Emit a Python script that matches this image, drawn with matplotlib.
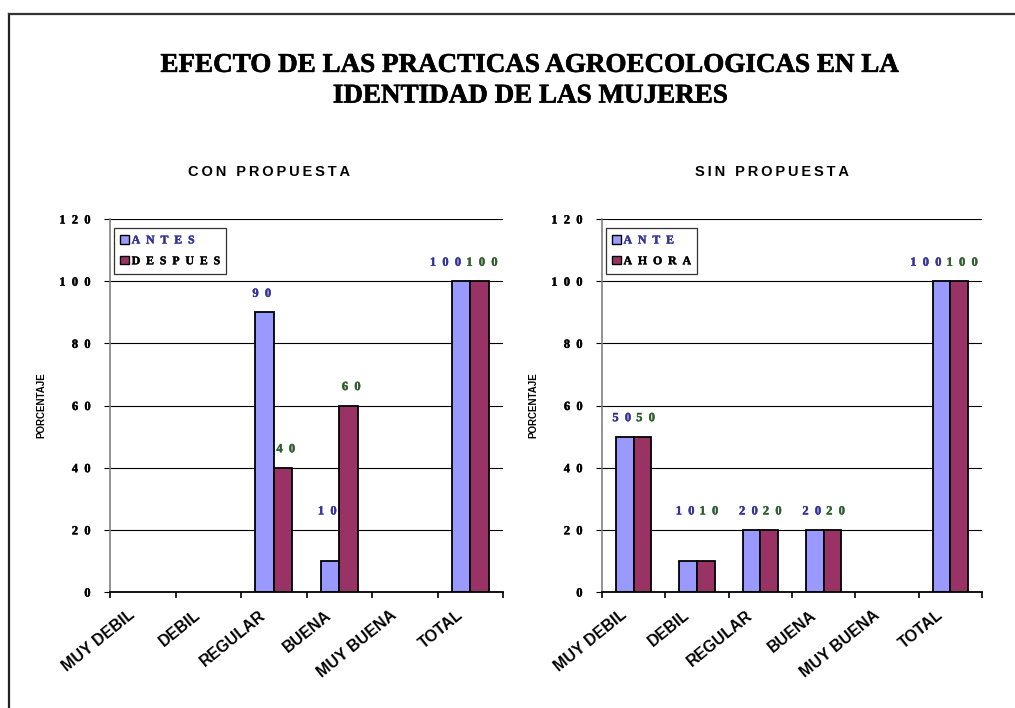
#!/usr/bin/env python3
"""Efecto de las practicas agroecologicas en la identidad de las mujeres."""

import matplotlib
matplotlib.use('Agg')
import matplotlib.pyplot as plt
import matplotlib.patches as mpatches
import matplotlib.patheffects as pe
from matplotlib.lines import Line2D
import numpy as np

# Datos
categorias = ['MUY DEBIL', 'DEBIL', 'REGULAR', 'BUENA', 'MUY BUENA', 'TOTAL']

con_antes = [None, None, 90, 10, None, 100]
con_despues = [None, None, 40, 60, None, 100]

sin_ante = [50, 10, 20, 20, None, 100]
sin_ahora = [50, 10, 20, 20, None, 100]

titulo = 'EFECTO DE LAS PRACTICAS AGROECOLOGICAS EN LA\nIDENTIDAD DE LAS MUJERES'
paneles = [
    ('CON PROPUESTA', ('ANTES', 'DESPUES'), con_antes, con_despues),
    ('SIN PROPUESTA', ('ANTE', 'AHORA'), sin_ante, sin_ahora),
]
yticks = [0, 20, 40, 60, 80, 100, 120]

# Estilo
C_AZUL = '#9999FF'
C_VINO = '#993366'
C_TXT_AZUL = '#333399'
C_TXT_VERDE = '#2E5E2E'
SERIF = ['Liberation Serif', 'DejaVu Serif']
SANS = ['Liberation Sans', 'DejaVu Sans']
EN = '\u2002'  # espacio "en" entre caracteres


def negrita(color, lw=0.3):
    # trazo fino para engrosar la serif
    return [pe.withStroke(linewidth=lw, foreground=color)]


def espaciar(s, sep=EN):
    return sep.join(str(s))


fig = plt.figure(figsize=(10.15, 7.08), dpi=100)

# Marco de la pagina (solo lados izquierdo y superior visibles)
fig.add_artist(Line2D([0.0089, 0.0089], [0, 0.980], transform=fig.transFigure,
                      color='#222222', linewidth=1.6))
fig.add_artist(Line2D([0.0089, 1.0], [0.980, 0.980], transform=fig.transFigure,
                      color='#333333', linewidth=1.6))

fig.text(0.523, 0.886, titulo, ha='center', va='center', fontsize=19.5,
         fontweight='bold', family=SERIF, linespacing=1.3,
         path_effects=negrita('black', 0.45))

ejes_pos = [[0.1084, 0.1638, 0.3872, 0.5269],
            [0.5931, 0.1638, 0.3744, 0.5269]]
sub_x = [0.265, 0.761]

x = np.arange(len(categorias))
w = 0.28

for k, (sub, nombres, s1, s2) in enumerate(paneles):
    ax = fig.add_axes(ejes_pos[k])
    fig.text(sub_x[k], 0.757, espaciar(sub, '\u2009'), ha='center', va='center',
             fontsize=10.5, fontweight='bold', family=SANS)

    v1 = np.array([np.nan if v is None else v for v in s1], dtype=float)
    v2 = np.array([np.nan if v is None else v for v in s2], dtype=float)

    ax.set_axisbelow(True)
    ax.grid(axis='y', color='black', linewidth=0.8)
    b1 = ax.bar(x - w / 2, np.nan_to_num(v1), w, color=C_AZUL,
                edgecolor='black', linewidth=1.3)
    b2 = ax.bar(x + w / 2, np.nan_to_num(v2), w, color=C_VINO,
                edgecolor='black', linewidth=1.3)
    for bars, vals in ((b1, v1), (b2, v2)):
        for rect, v in zip(bars, vals):
            if np.isnan(v):
                rect.set_visible(False)

    for i in range(len(categorias)):
        # etiquetas de 3 cifras se corren a la izquierda
        dx = -0.1 if (not np.isnan(v2[i]) and v2[i] >= 100) else 0.0
        if not np.isnan(v1[i]):
            ax.text(x[i] - 0.04 + dx, max(v1[i] + 4, 24), espaciar(int(v1[i])),
                    ha='right', va='bottom', fontsize=9, fontweight='bold',
                    family=SERIF, color=C_TXT_AZUL,
                    path_effects=negrita(C_TXT_AZUL))
        if not np.isnan(v2[i]):
            ax.text(x[i] + 0.04 + dx, max(v2[i] + 4, 24), espaciar(int(v2[i])),
                    ha='left', va='bottom', fontsize=9, fontweight='bold',
                    family=SERIF, color=C_TXT_VERDE,
                    path_effects=negrita(C_TXT_VERDE))

    ax.set_xlim(-0.5, len(categorias) - 0.5)
    ax.set_ylim(0, 120)
    ax.set_yticks(yticks)
    ax.set_yticklabels([espaciar(t) for t in yticks], fontsize=9,
                       fontweight='bold', family=SERIF)
    for t in ax.get_yticklabels():
        t.set_path_effects(negrita('black'))
    ax.tick_params(axis='y', length=4, width=0.8, pad=10)

    ax.set_xticks(x - 0.22)
    ax.set_xticklabels(categorias, rotation=39, ha='right',
                       rotation_mode='anchor', fontsize=11.5, fontweight='bold',
                       family=SANS)
    ax.tick_params(axis='x', length=0, pad=11)
    ax.set_xticks(np.arange(len(categorias) + 1) - 0.5, minor=True)
    ax.tick_params(axis='x', which='minor', length=4, width=1.2, direction='out')

    for s in ('top', 'right'):
        ax.spines[s].set_visible(False)
    ax.spines['left'].set_color('#808080')
    ax.spines['left'].set_linewidth(1.2)
    ax.spines['bottom'].set_color('black')
    ax.spines['bottom'].set_linewidth(1.3)

    ax.set_ylabel('PORCENTAJE', fontsize=7, fontweight='bold',
                  family=SANS, labelpad=9)

    handles = [
        mpatches.Patch(facecolor=C_AZUL, edgecolor='black', linewidth=1.0,
                       label=espaciar(nombres[0])),
        mpatches.Patch(facecolor=C_VINO, edgecolor='black', linewidth=1.0,
                       label=espaciar(nombres[1])),
    ]
    leg = ax.legend(handles=handles, loc='upper left',
                    bbox_to_anchor=(0.01, 0.976), borderaxespad=0,
                    frameon=True, fancybox=False, handlelength=0.75,
                    handleheight=0.75, handletextpad=0.2, borderpad=0.55,
                    labelspacing=0.75,
                    prop={'family': SERIF, 'weight': 'bold', 'size': 8.5})
    leg.get_frame().set_edgecolor('black')
    leg.get_frame().set_linewidth(0.9)
    leg.texts[0].set_color(C_TXT_AZUL)
    leg.texts[0].set_path_effects(negrita(C_TXT_AZUL))
    leg.texts[1].set_path_effects(negrita('black'))

fig.savefig('out.png', dpi=100, facecolor='white')
